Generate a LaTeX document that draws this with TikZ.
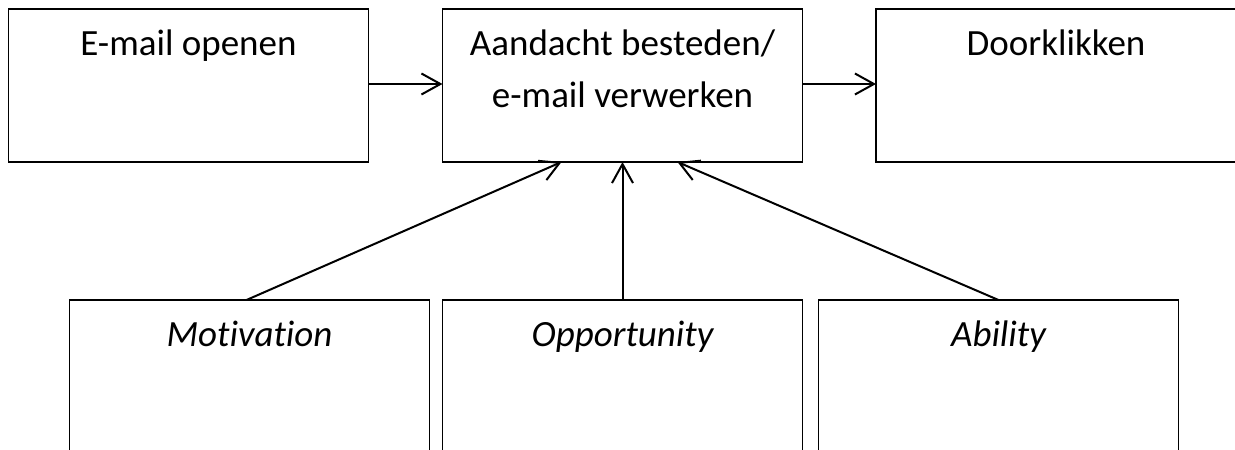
\documentclass[tikz,border=0pt]{standalone}
\usepackage{fontspec}
\setmainfont{Carlito}[Ligatures=NoCommon]
\usetikzlibrary{arrows.meta,calc}
\begin{document}
\begin{tikzpicture}[x=1pt,y=-1pt,
  box/.style={draw=black,line width=1.5pt,minimum width=360pt,minimum height=153pt,
    anchor=north west,inner sep=0pt,outer sep=0pt},
  lbl/.style={anchor=base,inner sep=0pt,font=\fontsize{37}{52}\selectfont,align=center},
  conn/.style={draw=black,line width=2pt,-{Straight Barb[length=19pt,width=21pt,line width=2pt]}}]
  \useasboundingbox (0,0) rectangle (1235,450);
  \fill[white] (0,0) rectangle (1235,450);

  % top row
  \node[box] (open) at (8.5,9) {};
  \node[box] (proc) at (442.5,9) {};
  \node[box] (click) at (876,9) {};
  % bottom row (runs past the lower edge)
  \node[box,minimum height=190pt] (mot) at (69.5,300) {};
  \node[box,minimum height=190pt] (opp) at (442.5,300) {};
  \node[box,minimum height=190pt] (abi) at (818.5,300) {};

  % texts (the two-line label sits on the baseline of its second line)
  \node[lbl] (topen) at ($(open.north)+(0,46)$) {E-mail openen};
  \node[lbl] (tproc) at ($(proc.north)+(0,98)$) {Aandacht besteden/\\e-mail verwerken};
  \node[lbl] (tclick) at ($(click.north)+(0,46)$) {Doorklikken};
  \node[lbl] (tmot) at ($(mot.north)+(0,46)$) {\itshape Motivation};
  \node[lbl] (topp) at ($(opp.north)+(0,46)$) {\itshape Opportunity};
  \node[lbl] (tabi) at ($(abi.north)+(0,46)$) {\itshape Ability};

  % arrow end points on the lower edge of the central box
  \coordinate (pin1) at ($(proc.south)+(-61,0)$);
  \coordinate (pin3) at ($(proc.south)+(55,0)$);

  % connectors
  \draw[conn] (open.east |- 0,84) -- (proc.west |- 0,84);
  \draw[conn] (proc.east |- 0,84) -- (click.west |- 0,84);
  \draw[conn] ($(mot.north)+(-3,0)$) -- (pin1);
  \draw[conn] (opp.north) -- (proc.south);
  \draw[conn] (abi.north) -- (pin3);
\end{tikzpicture}
\end{document}
